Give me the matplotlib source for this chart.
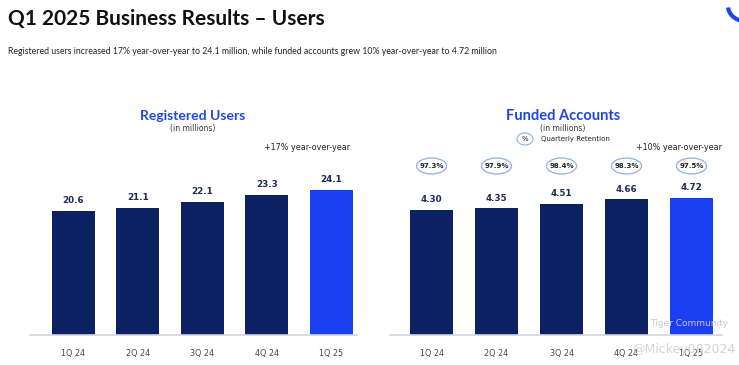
import numpy as np
import matplotlib.pyplot as plt
from matplotlib.patches import Ellipse, Arc

quarters = ['1Q 24', '2Q 24', '3Q 24', '4Q 24', '1Q 25']
registered = [20.6, 21.1, 22.1, 23.3, 24.1]
reg_labels = ['20.6', '21.1', '22.1', '23.3', '24.1']
funded = [4.30, 4.35, 4.51, 4.66, 4.72]
funded_labels = ['4.30', '4.35', '4.51', '4.66', '4.72']
retention = ['97.3%', '97.9%', '98.4%', '98.3%', '97.5%']

NAVY = '#0b2161'
BLUE = '#1a3ff0'
W, H = 739, 365


def px(x, y):
    return x / W, 1 - y / H


fig = plt.figure(figsize=(W / 100, H / 100), dpi=100)
fig.patch.set_facecolor('white')

fig.text(*px(8, 19), 'Q1 2025 Business Results \u2013 Users', fontsize=15,
         fontweight='bold', color='#111111', family='Lato', va='center')
fig.text(*px(8, 51), 'Registered users increased 17% year-over-year to 24.1 million, '
         'while funded accounts grew 10% year-over-year to 4.72 million',
         fontsize=6.3, color='#222222', family='Lato', va='center')


def panel(left, right, values, labels, ymax):
    x0, _ = px(left, 0)
    x1, _ = px(right, 0)
    _, y0 = px(0, 335)
    _, y1 = px(0, 100)
    ax = fig.add_axes([x0, y0, x1 - x0, y1 - y0])
    x = np.arange(len(values))
    colors = [NAVY] * (len(values) - 1) + [BLUE]
    ax.bar(x, values, width=0.67, color=colors, zorder=2)
    for xi, v, lab in zip(x, values, labels):
        ax.annotate(lab, (xi, v), xytext=(0, 4), textcoords='offset points',
                    ha='center', va='bottom', fontsize=6.3, fontweight='bold',
                    color='#1c2a55')
    ax.set_ylim(0, ymax)
    ax.set_xticks(x)
    ax.set_xticklabels(quarters, fontsize=5.8, color='#444444')
    ax.tick_params(axis='x', length=0, pad=10)
    ax.set_yticks([])
    for s in ['top', 'right', 'left']:
        ax.spines[s].set_visible(False)
    ax.spines['bottom'].set_color('#d0d4de')
    ax.spines['bottom'].set_linewidth(1.2)
    return ax


axl = panel(30, 357, registered, reg_labels, 39.0)
axl.set_xlim(-0.67, 4.40)
axr = panel(390, 722, funded, funded_labels, 8.07)
axr.set_xlim(-0.64, 4.47)

# left panel titles
fig.text(*px(193, 116), 'Registered Users', fontsize=10, fontweight='bold',
         color='#1f45e8', family='Lato', ha='center', va='center')
fig.text(*px(193, 129), '(in millions)', fontsize=5.5, color='#333333',
         ha='center', va='center')
fig.text(*px(350, 148), '+17% year-over-year', fontsize=5.8, color='#222222',
         ha='right', va='center')

# right panel titles
fig.text(*px(563, 116), 'Funded Accounts', fontsize=10.5, fontweight='bold',
         color='#1f45e8', family='Lato', ha='center', va='center')
fig.text(*px(563, 128), '(in millions)', fontsize=5.5, color='#333333',
         ha='center', va='center')
fig.text(*px(525, 139), '%', fontsize=5, color='#222222', ha='center', va='center')
fig.text(*px(541, 139), 'Quarterly Retention', fontsize=5, color='#222222',
         ha='left', va='center')
fig.text(*px(722, 147), '+10% year-over-year', fontsize=5.8, color='#222222',
         ha='right', va='center')

# retention ovals in figure pixel coords
oval_ax = fig.add_axes([0, 0, 1, 1], facecolor='none')
oval_ax.set_xlim(0, W)
oval_ax.set_ylim(H, 0)
oval_ax.axis('off')
oval_ax.add_patch(Ellipse((525, 139), 16, 12, fill=False, ec='#8fb0e6', lw=0.8))
for i, r in enumerate(retention):
    cx = axr.transData.transform((i, 0))[0]
    oval_ax.add_patch(Ellipse((cx, 166), 30, 16, fill=False, ec='#8fb0e6', lw=0.9))
    oval_ax.text(cx, 166, r, fontsize=5, fontweight='bold', color='#222222',
                 ha='center', va='center')

# small logo arc top right
oval_ax.add_patch(Arc((745, 6), 34, 30, theta1=100, theta2=175, color='#1f45e8', lw=3))

# watermark
fig.text(*px(650, 323), 'Tiger Community', fontsize=6.5, color='#c8c8c8', va='center')
fig.text(*px(632, 349), '@Mickey082024', fontsize=9, color='#d4d4d4', va='center')

fig.savefig('out.png', dpi=100)
